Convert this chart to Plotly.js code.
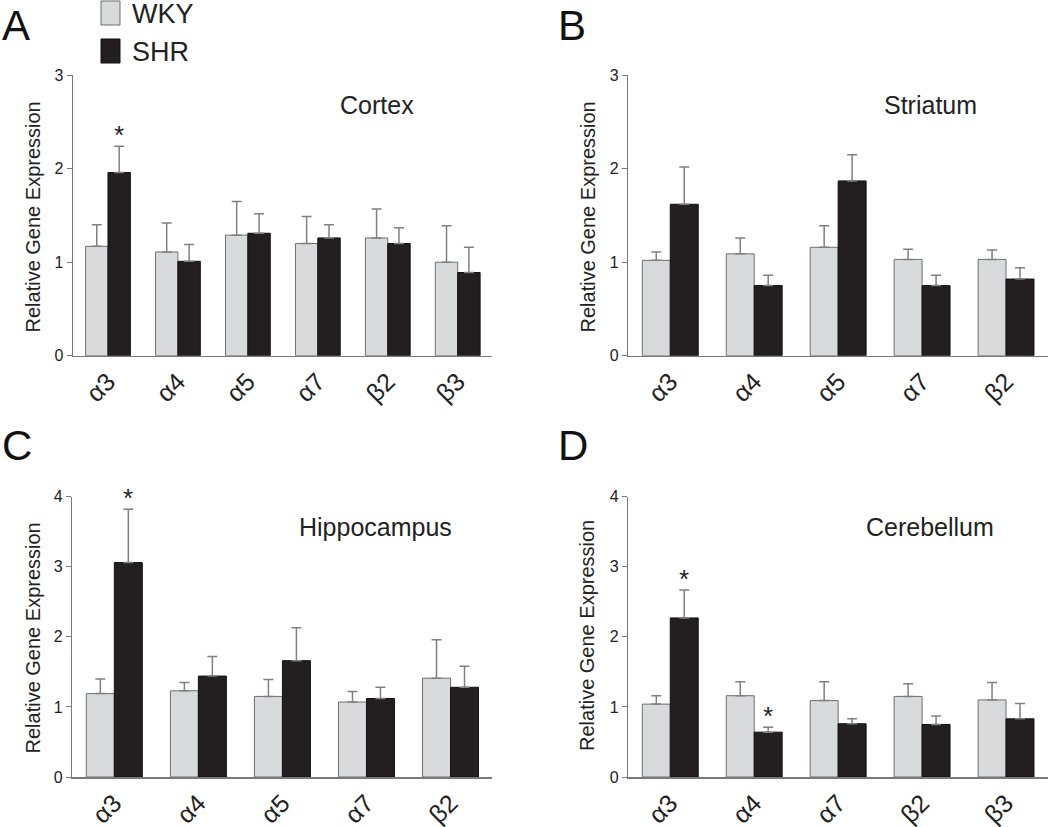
<!DOCTYPE html>
<html>
<head>
<meta charset="utf-8">
<script src="https://cdn.plot.ly/plotly-3.0.1.min.js"></script>
<style>html,body{margin:0;padding:0;background:#fff}#chart{width:1050px;height:827px}</style>
</head>
<body>
<div id="chart"></div>
<script>
// ---- Data ----
const catsA = ['α3','α4','α5','α7','β2','β3'];
const wkyA  = [1.17, 1.11, 1.29, 1.20, 1.26, 1.00];
const wkyA_sem = [0.23, 0.31, 0.36, 0.29, 0.31, 0.39];
const shrA  = [1.96, 1.01, 1.31, 1.26, 1.20, 0.89];
const shrA_sem = [0.28, 0.18, 0.21, 0.14, 0.17, 0.27];

const catsB = ['α3','α4','α5','α7','β2'];
const wkyB  = [1.02, 1.09, 1.16, 1.03, 1.03];
const wkyB_sem = [0.09, 0.17, 0.23, 0.11, 0.10];
const shrB  = [1.62, 0.75, 1.87, 0.75, 0.82];
const shrB_sem = [0.40, 0.11, 0.28, 0.11, 0.12];

const catsC = ['α3','α4','α5','α7','β2'];
const wkyC  = [1.19, 1.23, 1.15, 1.07, 1.41];
const wkyC_sem = [0.21, 0.12, 0.24, 0.15, 0.55];
const shrC  = [3.06, 1.44, 1.66, 1.12, 1.28];
const shrC_sem = [0.76, 0.28, 0.47, 0.16, 0.30];

const catsD = ['α3','α4','α7','β2','β3'];
const wkyD  = [1.04, 1.16, 1.09, 1.15, 1.10];
const wkyD_sem = [0.12, 0.20, 0.27, 0.18, 0.25];
const shrD  = [2.27, 0.64, 0.76, 0.75, 0.83];
const shrD_sem = [0.40, 0.07, 0.07, 0.12, 0.22];

// significance markers (category index of SHR bars marked with *)
const sigA = [0];
const sigC = [0];
const sigD = [0, 1];

const panelTitles = ['Cortex','Striatum','Hippocampus','Cerebellum'];
const panelLetters = ['A','B','C','D'];
const yTitle = 'Relative Gene Expression';

// ---- Styles ----
const FONT = '"Liberation Sans", Arial, Helvetica, sans-serif';
const WKY_FILL = '#d9dadc', WKY_LINE = '#6f6f6f';
const SHR_FILL = '#231f20', SHR_LINE = '#111111';
const AX = '#7a7a7a', TXT = '#222222';
const W = 1050, H = 827;

function bars(cats, wky, wsem, shr, ssem, ax, w) {
  const xa = 'x' + (ax === 1 ? '' : ax), ya = 'y' + (ax === 1 ? '' : ax);
  const eb = (arr) => ({type:'data', symmetric:false, array:arr, arrayminus:arr.map(()=>0),
                        color:'#808080', thickness:1.5, width:5});
  return [
    {type:'bar', x:cats, y:wky, xaxis:xa, yaxis:ya, width:w, offset:-w, name:'WKY', showlegend:false,
     marker:{color:WKY_FILL, line:{color:WKY_LINE, width:1}}, error_y:eb(wsem)},
    {type:'bar', x:cats, y:shr, xaxis:xa, yaxis:ya, width:w, offset:0, name:'SHR', showlegend:false,
     marker:{color:SHR_FILL, line:{color:SHR_LINE, width:1}}, error_y:eb(ssem)}
  ];
}

const wA = 0.32, wB = 0.333;
const data = [
  ...bars(catsA, wkyA, wkyA_sem, shrA, shrA_sem, 1, wA),
  ...bars(catsB, wkyB, wkyB_sem, shrB, shrB_sem, 2, wB),
  ...bars(catsC, wkyC, wkyC_sem, shrC, shrC_sem, 3, wB),
  ...bars(catsD, wkyD, wkyD_sem, shrD, shrD_sem, 4, wB)
];

const px = v => v / W;
const py = v => 1 - v / H;

function xax(d0, d1, right) {
  return {domain:[px(d0), px(d1)], range:[-0.5, right], type:'category', fixedrange:true,
    showline:true, linecolor:AX, linewidth:1.5, ticks:'', showgrid:false, zeroline:false,
    tickangle:-45, tickfont:{family:FONT, size:25, color:TXT}};
}
function yax(top, bottom, max, anchor) {
  return {domain:[py(bottom), py(top)], range:[0, max], anchor:anchor, dtick:1, tick0:0,
    showline:true, linecolor:AX, linewidth:1.5, ticks:'outside', ticklen:5, tickwidth:1, tickcolor:AX,
    showgrid:false, zeroline:false, tickfont:{family:FONT, size:16, color:TXT}};
}

const layout = {
  width:W, height:H, margin:{l:0, r:0, t:0, b:0}, paper_bgcolor:'#fff', plot_bgcolor:'rgba(0,0,0,0)',
  font:{family:FONT, color:TXT}, showlegend:false, barmode:'overlay',
  xaxis:  Object.assign(xax(73, 492, 5.49), {anchor:'y'}),
  yaxis:  yax(75.3, 355.7, 3, 'x'),
  xaxis2: Object.assign(xax(628.3, 1048, 4.5), {anchor:'y2'}),
  yaxis2: yax(75.3, 355.7, 3, 'x2'),
  xaxis3: Object.assign(xax(72.3, 491.7, 4.49), {anchor:'y3'}),
  yaxis3: yax(496.7, 777, 4, 'x3'),
  xaxis4: Object.assign(xax(628.3, 1048, 4.5), {anchor:'y4'}),
  yaxis4: yax(496.7, 777, 4, 'x4'),
  shapes: [
    {type:'rect', xref:'paper', yref:'paper', x0:px(101), x1:px(120), y0:py(25), y1:py(1),
     fillcolor:WKY_FILL, line:{color:WKY_LINE, width:1}},
    {type:'rect', xref:'paper', yref:'paper', x0:px(101), x1:px(120), y0:py(63), y1:py(39),
     fillcolor:SHR_FILL, line:{color:SHR_LINE, width:1}}
  ],
  annotations: []
};

const ann = layout.annotations;
// legend text
ann.push({xref:'paper', yref:'paper', x:px(130), y:py(14), xanchor:'left', yanchor:'middle', showarrow:false,
          text:'WKY', font:{family:FONT, size:27, color:TXT}});
ann.push({xref:'paper', yref:'paper', x:px(130), y:py(52), xanchor:'left', yanchor:'middle', showarrow:false,
          text:'SHR', font:{family:FONT, size:27, color:TXT}});
// panel letters
const letterPos = [[0, 0], [556, 0], [0, 420], [556, 420]];
panelLetters.forEach((t, i) => ann.push({xref:'paper', yref:'paper', x:px(letterPos[i][0]), y:py(letterPos[i][1]),
  xanchor:'left', yanchor:'top', showarrow:false, text:t, font:{family:FONT, size:42, color:'#111'}}));
// panel titles
const titlePos = [[377, 105], [930, 105], [375, 527], [930, 527]];
panelTitles.forEach((t, i) => ann.push({xref:'paper', yref:'paper', x:px(titlePos[i][0]), y:py(titlePos[i][1]),
  xanchor:'center', yanchor:'middle', showarrow:false, text:t, font:{family:FONT, size:25, color:TXT}}));
// y-axis titles
const ytPos = [[32, 217.5], [587, 217.5], [32, 638.5], [587, 636]];
ytPos.forEach(p => ann.push({xref:'paper', yref:'paper', x:px(p[0]), y:py(p[1]), xanchor:'center', yanchor:'middle',
  showarrow:false, textangle:-90, text:yTitle, font:{family:FONT, size:20, color:TXT}}));
// significance asterisks
function stars(sig, shr, sem, ax, w) {
  const s = ax === 1 ? '' : ax;
  sig.forEach(i => ann.push({xref:'x' + s, yref:'y' + s, x:i + w/2, y:shr[i] + sem[i], xanchor:'center',
    yanchor:'bottom', yshift:-6, showarrow:false, text:'*', font:{family:FONT, size:26, color:TXT}}));
}
stars(sigA, shrA, shrA_sem, 1, wA);
stars(sigC, shrC, shrC_sem, 3, wB);
stars(sigD, shrD, shrD_sem, 4, wB);

Plotly.newPlot('chart', data, layout, {staticPlot:true, displayModeBar:false});
</script>
</body>
</html>
